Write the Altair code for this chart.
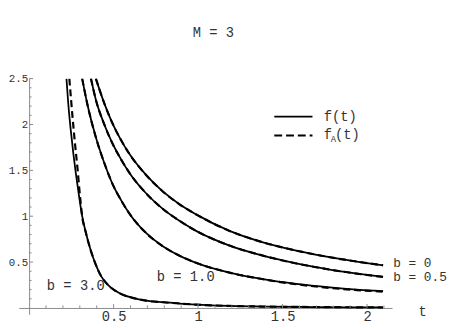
import altair as alt
import pandas as pd

# ---------------- data ----------------
# b = 0
b0_t = [0.395, 0.445, 0.494, 0.544, 0.593, 0.692, 0.791, 0.890, 0.988, 1.186, 1.384, 1.581, 1.779, 1.977, 2.095]
b0_v = [2.50, 2.23, 2.01, 1.83, 1.68, 1.45, 1.27, 1.13, 1.02, 0.84, 0.715, 0.625, 0.553, 0.495, 0.465]
# b = 0.5
b05_t = [0.366, 0.395, 0.445, 0.494, 0.544, 0.593, 0.692, 0.791, 0.890, 0.988, 1.186, 1.384, 1.581, 1.779, 1.977, 2.095]
b05_v = [2.50, 2.27, 2.00, 1.79, 1.62, 1.475, 1.25, 1.08, 0.95, 0.84, 0.68, 0.57, 0.485, 0.418, 0.365, 0.338]
# b = 1.0
b1_t = [0.314, 0.346, 0.395, 0.445, 0.494, 0.544, 0.593, 0.692, 0.791, 0.890, 0.988, 1.186, 1.384, 1.581, 1.779, 1.977, 2.095]
b1_v = [2.50, 2.21, 1.86, 1.58, 1.35, 1.175, 1.03, 0.817, 0.673, 0.569, 0.492, 0.385, 0.313, 0.261, 0.223, 0.195, 0.183]
b1A_v = [2.50, 2.21, 1.86, 1.58, 1.35, 1.175, 1.03, 0.817, 0.673, 0.569, 0.492, 0.385, 0.313, 0.258, 0.218, 0.19, 0.178]
# b = 3.0 (exact f)
b3_t = [0.221, 0.232, 0.247, 0.262, 0.277, 0.287, 0.297, 0.314, 0.336, 0.366, 0.395, 0.425, 0.465, 0.504,
        0.553, 0.613, 0.692, 0.791, 0.890, 0.988, 1.186, 1.384, 1.680, 2.095]
b3_v = [2.50, 2.22, 1.93, 1.68, 1.46, 1.33, 1.20, 1.00, 0.82, 0.62, 0.47, 0.35, 0.255, 0.195,
        0.145, 0.11, 0.08, 0.062, 0.048, 0.036, 0.022, 0.015, 0.01, 0.005]
# b = 3.0 (approximation f_A)
b3A_t = [0.238, 0.247, 0.257, 0.267, 0.277, 0.287, 0.297, 0.306, 0.314, 0.336, 0.366, 0.395, 0.425, 0.465, 0.504,
         0.553, 0.613, 0.692, 0.791, 0.890, 0.988, 1.186, 1.384, 1.680, 2.095]
b3A_v = [2.50, 2.30, 2.08, 1.88, 1.69, 1.51, 1.30, 1.13, 1.00, 0.82, 0.62, 0.47, 0.35, 0.255, 0.195,
         0.145, 0.11, 0.08, 0.062, 0.048, 0.036, 0.022, 0.015, 0.01, 0.005]

x_labels = [0.5, 1.0, 1.5, 2.0]
y_labels = [0.5, 1.0, 1.5, 2.0, 2.5]
x_minor = [0.1, 0.2, 0.3, 0.4, 0.6, 0.7, 0.8, 0.9, 1.1, 1.2, 1.3, 1.4, 1.6, 1.7, 1.8, 1.9, 2.1]
y_minor = [0.1, 0.2, 0.3, 0.4, 0.6, 0.7, 0.8, 0.9, 1.1, 1.2, 1.3, 1.4, 1.6, 1.7, 1.8, 1.9,
           2.1, 2.2, 2.3, 2.4]

curve_labels = ["b = 3.0", "b = 1.0", "b = 0", "b = 0.5"]
axis_title_x = "t"
title_text = "M = 3"

# ---------------- layout / style ----------------
X_DOMAIN = [-0.061, 2.148]
Y_DOMAIN = [-0.07, 2.5]
W, H = 380, 240
PX_T = W / (X_DOMAIN[1] - X_DOMAIN[0])
PX_V = H / (Y_DOMAIN[1] - Y_DOMAIN[0])
FONT = "Liberation Mono"
TXT = "#333333"
AXC = "#8a8a8a"

rows = []
def add(ts, vs, name, kind):
    for t, v in zip(ts, vs):
        rows.append({"t": t, "v": v, "curve": name + kind, "kind": kind})

add(b0_t, b0_v, "b0", "f"); add(b0_t, b0_v, "b0", "fA")
add(b05_t, b05_v, "b05", "f"); add(b05_t, b05_v, "b05", "fA")
add(b1_t, b1_v, "b1", "f"); add(b1_t, b1A_v, "b1", "fA")
add(b3_t, b3_v, "b3", "f"); add(b3A_t, b3A_v, "b3", "fA")
curves = pd.DataFrame(rows)

xs = alt.Scale(domain=X_DOMAIN, nice=False, zero=False)
ys = alt.Scale(domain=Y_DOMAIN, nice=False, zero=False)

x_axis = alt.Axis(values=x_labels, format="~g", ticks=False, grid=False,
                  domainColor=AXC, domainWidth=1, labelFont=FONT, labelFontSize=14,
                  labelColor=TXT, labelPadding=2, offset=round(-(0 - Y_DOMAIN[0]) * PX_V, 1),
                  title=None, labelFlush=False, labelOverlap=False)
y_axis = alt.Axis(values=y_labels, format="~g", ticks=False, grid=False,
                  domainColor=AXC, domainWidth=1, labelFont=FONT, labelFontSize=11,
                  labelColor=TXT, labelPadding=1.5, offset=round(-(0 - X_DOMAIN[0]) * PX_T, 1),
                  title=None, labelFlush=False, labelOverlap=False)

def X(f):
    return alt.X(f, scale=xs, axis=x_axis)

def Y(f):
    return alt.Y(f, scale=ys, axis=y_axis)

solid = alt.Chart(curves[curves.kind == "f"]).mark_line(
    color="black", strokeWidth=1.8, interpolate="monotone", clip=True
).encode(x=X("t:Q"), y=Y("v:Q"), detail="curve:N")

dashed = alt.Chart(curves[curves.kind == "fA"]).mark_line(
    color="black", strokeWidth=2.2, strokeDash=[7, 4], interpolate="monotone", clip=True
).encode(x=X("t:Q"), y=Y("v:Q"), detail="curve:N")

# inward axis ticks
tick_rows = []
for v in y_labels:
    tick_rows.append({"t": 0, "t2": 4 / PX_T, "v": v, "v2": v})
for v in y_minor:
    tick_rows.append({"t": 0, "t2": 2.5 / PX_T, "v": v, "v2": v})
for t in x_labels:
    tick_rows.append({"t": t, "t2": t, "v": 0, "v2": 4 / PX_V})
for t in x_minor:
    tick_rows.append({"t": t, "t2": t, "v": 0, "v2": 2.5 / PX_V})
ticks = alt.Chart(pd.DataFrame(tick_rows)).mark_rule(color=AXC, strokeWidth=1).encode(
    x=X("t:Q"), x2="t2:Q", y=Y("v:Q"), y2="v2:Q",
)

# legend
leg_lines = pd.DataFrame([
    {"t": 1.451, "t2": 1.677, "v": 2.085, "kind": "f"},
    {"t": 1.451, "t2": 1.677, "v": 1.88, "kind": "fA"},
])
leg_solid = alt.Chart(leg_lines[leg_lines.kind == "f"]).mark_rule(
    color="black", strokeWidth=1.8).encode(x=X("t:Q"), x2="t2:Q", y=Y("v:Q"))
leg_dash = alt.Chart(leg_lines[leg_lines.kind == "fA"]).mark_rule(
    color="black", strokeWidth=2.2, strokeDash=[8, 4]).encode(x=X("t:Q"), x2="t2:Q", y=Y("v:Q"))

def text_layer(df, align, size=14, dy=0):
    return alt.Chart(df).mark_text(
        font=FONT, fontSize=size, color=TXT, align=align, baseline="middle", dy=dy
    ).encode(x=X("t:Q"), y=Y("v:Q"), text="label:N")

leg_text = text_layer(pd.DataFrame([
    {"t": 1.744, "v": 2.085, "label": "f(t)"},
    {"t": 1.744, "v": 1.88, "label": "f"},
    {"t": 1.811, "v": 1.88, "label": "(t)"},
]), "left")
leg_sub = text_layer(pd.DataFrame([{"t": 1.785, "v": 1.88, "label": "A"}]), "left", size=9, dy=4)

center_lbl = text_layer(pd.DataFrame([
    {"t": 0.276, "v": 0.24, "label": curve_labels[0]},
    {"t": 0.927, "v": 0.34, "label": curve_labels[1]},
]), "center")
left_lbl = text_layer(pd.DataFrame([
    {"t": 2.155, "v": 0.49, "label": curve_labels[2]},
    {"t": 2.155, "v": 0.335, "label": curve_labels[3]},
]), "left", size=13)
t_lbl = text_layer(pd.DataFrame([{"t": 2.305, "v": -0.048, "label": axis_title_x}]), "left")

chart = alt.layer(
    solid, dashed, ticks, leg_solid, leg_dash, leg_text, leg_sub, center_lbl, left_lbl, t_lbl
).properties(
    width=W, height=H,
    autosize=alt.AutoSizeParams(type="none"),
    padding={"left": 11, "top": 69, "right": 59, "bottom": 11},
    title=alt.TitleParams(title_text, font=FONT, fontSize=14, fontWeight="normal",
                          color=TXT, offset=33, dx=8),
).configure(background="white").configure_view(stroke=None)

chart.save("out.html", embed_options={"renderer": "svg", "actions": False})
